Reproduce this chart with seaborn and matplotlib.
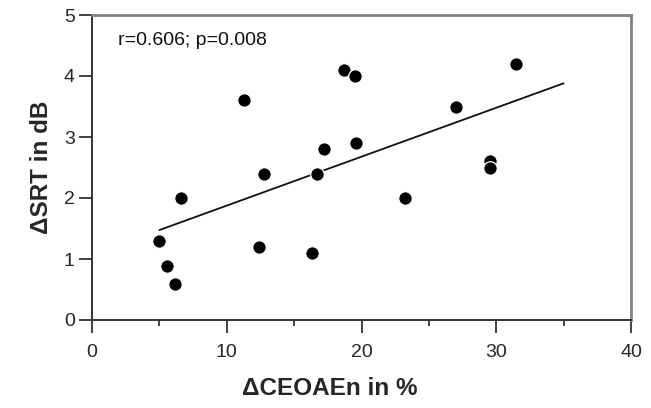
import numpy as np
import pandas as pd
import matplotlib
matplotlib.use("Agg")
import matplotlib.pyplot as plt
import seaborn as sns
from matplotlib.ticker import MultipleLocator

# Data
delta_ceoaen = [4.96, 5.56, 6.15, 6.59, 11.3, 12.4, 12.8, 16.3, 16.7, 17.2,
                18.7, 19.5, 19.6, 23.2, 27.0, 29.5, 29.5, 31.5]
delta_srt = [1.30, 0.89, 0.59, 2.00, 3.61, 1.20, 2.39, 1.10, 2.39, 2.80,
             4.10, 4.00, 2.90, 2.00, 3.50, 2.60, 2.49, 4.20]
fit_range = [5, 35]
annotation = "r=0.606; p=0.008"
x_ticks = [0, 10, 20, 30, 40]
y_ticks = [0, 1, 2, 3, 4, 5]
x_label = "ΔCEOAEn in %"
y_label = "ΔSRT in dB"

df = pd.DataFrame({"x": delta_ceoaen, "y": delta_srt})
slope, intercept = np.polyfit(df["x"], df["y"], 1)
line_df = pd.DataFrame({"x": fit_range,
                        "y": [slope * v + intercept for v in fit_range]})

sns.set_theme(style="ticks")
plt.rcParams["font.family"] = ["Liberation Sans", "DejaVu Sans"]

fig = plt.figure(figsize=(6.51, 4.08), dpi=100)
ax = fig.add_axes([92 / 651, 1 - 320 / 408, (631 - 92) / 651, (320 - 15) / 408])

sns.lineplot(data=line_df, x="x", y="y", ax=ax, color="#111111",
             linewidth=1.3, zorder=2)
sns.scatterplot(data=df, x="x", y="y", ax=ax, color="black", s=95,
                edgecolor="white", linewidth=0.9, zorder=3)

ax.set_xlim(0, 40)
ax.set_ylim(0, 5)
ax.set_xticks(x_ticks)
ax.set_yticks(y_ticks)
ax.xaxis.set_minor_locator(MultipleLocator(5))

ax.tick_params(axis="x", which="major", direction="out", length=9.5,
               width=1.3, color="#333333", labelsize=14, pad=8)
ax.tick_params(axis="x", which="minor", direction="out", length=4.5,
               width=1.3, color="#333333")
ax.tick_params(axis="y", which="major", direction="out", length=9.5,
               width=1.3, color="#333333", labelsize=14, pad=3)

for side in ["left", "bottom"]:
    ax.spines[side].set_color("#333333")
    ax.spines[side].set_linewidth(1.4)
for side in ["top", "right"]:
    ax.spines[side].set_color("#808080")
    ax.spines[side].set_linewidth(2.0)

ax.set_xlabel(x_label, fontsize=17.5, fontweight="bold", labelpad=11)
ax.set_ylabel(y_label, fontsize=17.5, fontweight="bold", labelpad=8)
ax.xaxis.label.set_x((330 - 92) / 539)

ax.text(1.9, 4.59, annotation, fontsize=14, va="center", ha="left",
        color="#111111")

fig.savefig("out.png", dpi=100)
